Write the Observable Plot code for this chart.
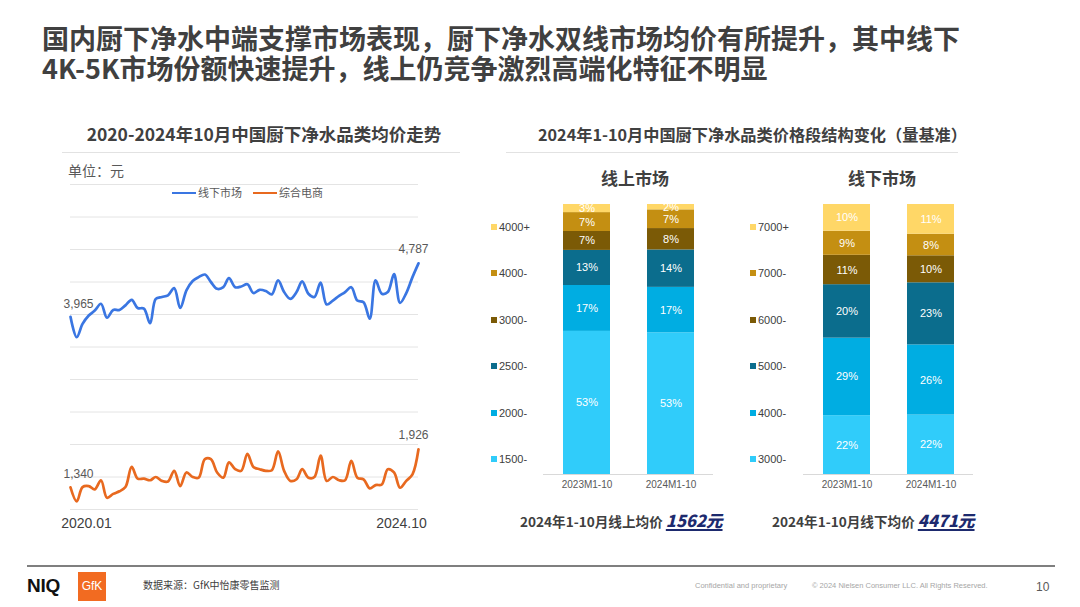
<!DOCTYPE html>
<html><head><meta charset="utf-8">
<script src="https://cdn.jsdelivr.net/npm/d3@7"></script>
<script src="https://cdn.jsdelivr.net/npm/@observablehq/plot@0.6"></script>
<style>
html,body{margin:0;padding:0;}
body{width:1080px;height:607px;background:#fff;position:relative;overflow:hidden;font-family:"Noto Sans CJK SC","Liberation Sans",sans-serif;color:#404040;}
.abs{position:absolute;white-space:nowrap;}
.hdr{font-weight:700;color:#404040;}
.sep{position:absolute;height:1px;background:#e2e2e2;}
.lg{position:absolute;font-family:"Liberation Sans",Arial,sans-serif;font-size:11px;color:#404040;line-height:12px;}
.lg i{display:inline-block;width:6px;height:6px;margin-right:2px;vertical-align:1px;}
.avg{font-weight:700;font-size:13.6px;color:#404040;}
.avg b{font-style:italic;font-size:16.5px;color:#1d2a6e;text-decoration:underline;text-decoration-thickness:1.5px;text-underline-offset:2px;}
</style></head><body>

<div class="abs hdr" style="left:42px;top:24px;font-size:27px;line-height:27px;">国内厨下净水中端支撑市场表现，厨下净水双线市场均价有所提升，其中线下</div>
<div class="abs hdr" style="left:42px;top:54px;font-size:27px;line-height:27px;">4K-5K市场份额快速提升，线上仍竞争激烈高端化特征不明显</div>

<div class="abs hdr" style="left:62px;width:404px;top:122px;text-align:center;font-size:17.5px;line-height:24px;">2020-2024年10月中国厨下净水品类均价走势</div>
<div class="sep" style="left:62px;width:398px;top:152px;"></div>
<div class="abs" style="left:68px;top:160px;font-size:14px;line-height:20px;color:#595959;">单位：元</div>
<div id="lineLegend" class="abs" style="left:0;top:186px;font-size:11px;line-height:12px;color:#595959;"></div>
<div id="lineChart" class="abs" style="left:40px;top:176px;"></div>

<div class="abs hdr" style="left:538px;top:122px;font-size:16.2px;line-height:24px;">2024年1-10月中国厨下净水品类价格段结构变化（量基准）</div>
<div class="sep" style="left:506px;width:452px;top:152px;"></div>
<div class="abs hdr" style="left:585px;width:100px;top:166px;text-align:center;font-size:17px;line-height:24px;">线上市场</div>
<div class="abs hdr" style="left:832px;width:100px;top:166px;text-align:center;font-size:17px;line-height:24px;">线下市场</div>
<div id="onLegend"></div>
<div id="offLegend"></div>
<div id="onChart" class="abs" style="left:480px;top:195px;"></div>
<div id="offChart" class="abs" style="left:740px;top:195px;"></div>
<div class="abs avg" style="left:520px;width:200px;top:508px;text-align:center;line-height:24px;">2024年1-10月线上均价 <b id="onAvg"></b></div>
<div class="abs avg" style="left:772px;width:200px;top:508px;text-align:center;line-height:24px;">2024年1-10月线下均价 <b id="offAvg"></b></div>

<div class="abs" style="left:27px;width:1028px;top:565px;height:1.5px;background:#7f7f7f;"></div>
<div class="abs" style="left:27px;top:575px;font-family:'Liberation Sans',Arial,sans-serif;font-weight:700;font-size:19px;line-height:22px;color:#111;letter-spacing:-0.3px;">NIQ</div>
<div class="abs" style="left:78px;top:572px;width:28px;height:29px;background:#f26b21;color:#fff;font-family:'Liberation Sans',Arial,sans-serif;font-size:12px;line-height:29px;text-align:center;">GfK</div>
<div class="abs" style="left:143px;top:578px;font-size:10px;line-height:14px;color:#404040;">数据来源：GfK中怡康零售监测</div>
<div class="abs" style="left:695px;top:581px;font-family:'Liberation Sans',Arial,sans-serif;font-size:7.5px;line-height:10px;color:#a6a6a6;">Confidential and proprietary</div>
<div class="abs" style="left:812px;top:581px;font-family:'Liberation Sans',Arial,sans-serif;font-size:7.5px;line-height:10px;color:#a6a6a6;">© 2024 Nielsen Consumer LLC. All Rights Reserved.</div>
<div class="abs" style="left:1036px;top:580px;font-family:'Liberation Sans',Arial,sans-serif;font-size:12px;line-height:14px;color:#595959;">10</div>

<script>
// ---------- Data: monthly average price (元), 2020.01 – 2024.10 ----------
const seriesNames = ["线下市场", "综合电商"];
const seriesColors = ["#3a76e2", "#e8691f"];
const offlineAvg = [3965,3650,3855,3985,4060,4165,3950,4070,4070,4140,4225,4100,
                    4090,3865,4240,4270,4295,4405,4100,4370,4515,4575,4615,4500,
                    4395,4420,4560,4420,4430,4465,4330,4380,4360,4310,4525,4345,
                    4240,4345,4510,4320,4270,4490,4155,4215,4285,4345,4420,4215,
                    4190,3935,4525,4320,4345,4620,4180,4330,4575,4787];
const ecomAvg =    [1340,1125,1345,1360,1310,1450,1180,1240,1280,1345,1655,1475,
                    1475,1450,1500,1440,1430,1595,1360,1570,1500,1490,1775,1775,
                    1570,1490,1725,1620,1595,1855,1655,1620,1595,1605,1895,1595,
                    1440,1465,1620,1490,1500,1830,1440,1500,1450,1450,1750,1490,
                    1465,1325,1375,1385,1620,1570,1335,1440,1540,1926];
const gridValues = [1000,1500,2000,2500,3000,3500,4000,4500,5000,5500,6000];

// ---------- Data: price-band structure (volume share, %) ----------
const periods = ["2023M1-10", "2024M1-10"];
const onlineBands = ["1500-", "2000-", "2500-", "3000-", "4000-", "4000+"];
const online2023 = [53, 17, 13, 7, 7, 3];
const online2024 = [53, 17, 14, 8, 7, 2];
const offlineBands = ["3000-", "4000-", "5000-", "6000-", "7000-", "7000+"];
const offline2023 = [22, 29, 20, 11, 9, 10];
const offline2024 = [22, 26, 23, 10, 8, 11];
const bandColors = ["#30ccfa", "#00ade2", "#0b6d8d", "#7b5a06", "#c48f12", "#ffd767"];
const onlineAvgPrice = 1562;
const offlineAvgPrice = 4471;

// ---------- Line chart ----------
const months = d3.utcMonth.range(new Date(Date.UTC(2020, 0, 1)), new Date(Date.UTC(2024, 10, 1)));
const fmtMonth = d3.utcFormat("%Y.%m");
const fmtNum = d3.format(",");
const rows = [];
[offlineAvg, ecomAvg].forEach((arr, s) => arr.forEach((v, i) => rows.push({date: months[i], value: v, series: seriesNames[s]})));
const ends = [];
[offlineAvg, ecomAvg].forEach((arr) => {
  ends.push({date: months[0], value: arr[0], side: "first"});
  ends.push({date: months[arr.length - 1], value: arr[arr.length - 1], side: "last"});
});
const first = months[0], last = months[months.length - 1];

const lineChart = Plot.plot({
  width: 420, height: 370,
  marginLeft: 30, marginRight: 42, marginTop: 8, marginBottom: 37,
  style: {fontFamily: "Liberation Sans, Arial, sans-serif", fontSize: "12px", color: "#595959", background: "transparent", overflow: "visible"},
  x: {type: "utc", domain: [first, last], axis: null},
  y: {domain: [1000, 6000], axis: null},
  color: {domain: seriesNames, range: seriesColors},
  marks: [
    Plot.ruleY(gridValues, {stroke: "#e4e4e4", strokeWidth: 1}),
    Plot.line(rows, {x: "date", y: "value", z: "series", stroke: "series", strokeWidth: 2.7, curve: "catmull-rom"}),
    Plot.text(ends.filter(d => d.side === "first"), {x: "date", y: "value", text: d => fmtNum(d.value), dy: -13, dx: 8, fill: "#595959", fontSize: 12}),
    Plot.text(ends.filter(d => d.side === "last"), {x: "date", y: "value", text: d => fmtNum(d.value), dy: -14, dx: -5, fill: "#595959", fontSize: 12}),
    Plot.text([first], {x: d => d, frameAnchor: "bottom", dy: 18, dx: 16, text: d => fmtMonth(d), fill: "#404040", fontSize: 14}),
    Plot.text([last], {x: d => d, frameAnchor: "bottom", dy: 18, dx: -17, text: d => fmtMonth(d), fill: "#404040", fontSize: 14})
  ]
});
document.getElementById("lineChart").append(lineChart);

// line legend
const lgPos = [172, 253];
const lgEl = document.getElementById("lineLegend");
seriesNames.forEach((n, i) => {
  const d = document.createElement("div");
  d.className = "abs";
  d.style.left = lgPos[i] + "px";
  d.style.top = "0px";
  d.innerHTML = `<span style="display:inline-block;width:24px;height:2.5px;background:${seriesColors[i]};vertical-align:3px;margin-right:2px;"></span>${n}`;
  lgEl.append(d);
});

// ---------- Stacked bars ----------
function stackedChart(bands, vals) {
  const data = [];
  vals.forEach((arr, p) => arr.forEach((v, b) => data.push({period: periods[p], band: bands[b], value: v})));
  return Plot.plot({
    width: 250, height: 305,
    marginLeft: 63, marginRight: 17, marginTop: 9, marginBottom: 26,
    style: {fontFamily: "Liberation Sans, Arial, sans-serif", fontSize: "10px", color: "#595959", background: "transparent", overflow: "visible"},
    x: {domain: periods, paddingInner: 0.444, paddingOuter: 0.228, label: null, tickSize: 0, tickPadding: 6},
    y: {axis: null},
    color: {domain: bands, range: bandColors},
    marks: [
      Plot.barY(data, {x: "period", y: "value", fill: "band", z: "band", offset: "normalize"}),
      Plot.text(data, Plot.stackY({offset: "normalize"}, {x: "period", y: "value", z: "band", text: d => d.value + "%", fill: "white", fontSize: 11})),
      Plot.ruleY([0], {stroke: "#d9d9d9", strokeWidth: 1})
    ]
  });
}
document.getElementById("onChart").append(stackedChart(onlineBands, [online2023, online2024]));
document.getElementById("offChart").append(stackedChart(offlineBands, [offline2023, offline2024]));

function legend(id, left, bands) {
  const el = document.getElementById(id);
  const n = bands.length;
  bands.slice().reverse().forEach((b, i) => {
    const d = document.createElement("div");
    d.className = "lg";
    d.style.left = left + "px";
    d.style.top = (221 + i * 46.4) + "px";
    d.innerHTML = `<i style="background:${bandColors[n - 1 - i]}"></i>${b}`;
    el.append(d);
  });
}
legend("onLegend", 491, onlineBands);
legend("offLegend", 750, offlineBands);

document.getElementById("onAvg").textContent = onlineAvgPrice + "元";
document.getElementById("offAvg").textContent = offlineAvgPrice + "元";
</script>
</body></html>
